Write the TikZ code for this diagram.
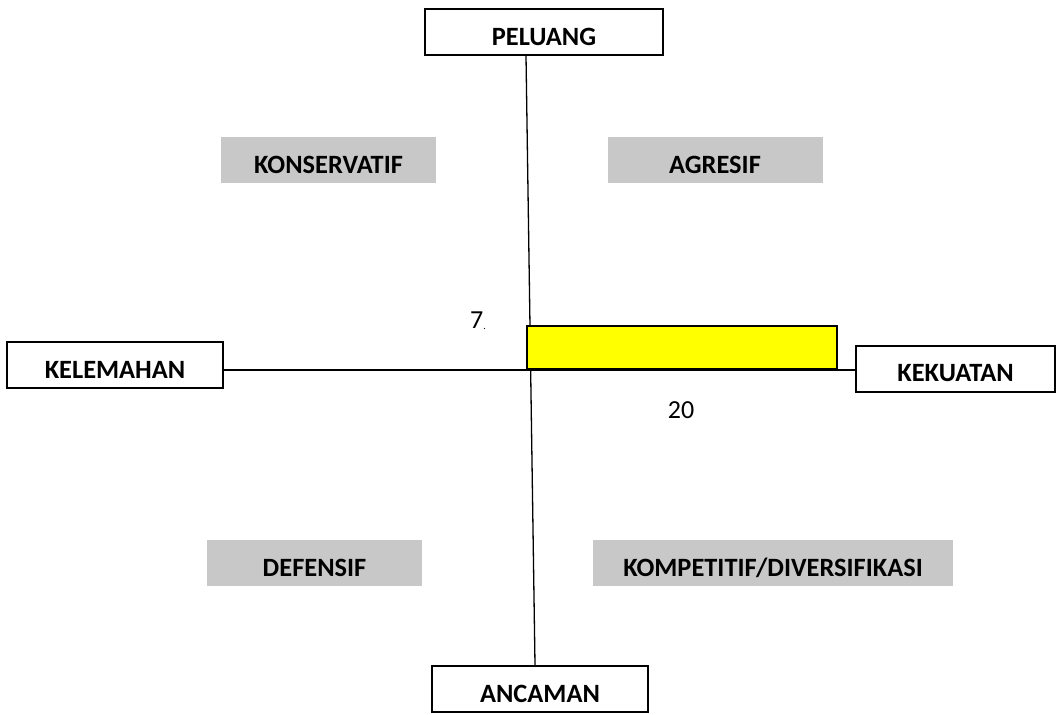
\documentclass[tikz,border=0pt]{standalone}
\usepackage{fontspec}
\setmainfont{Carlito}
\usepackage{tikz}
\usetikzlibrary{arrows,shapes}
\definecolor{quadgray}{RGB}{200,200,200}
\definecolor{markyellow}{RGB}{255,255,0}
\tikzstyle{axisbox}=[draw,line width=1pt,fill=white,minimum height=23pt,inner sep=0pt,text height=13pt,text depth=0pt,font=\fontsize{13.2}{15}\selectfont\bfseries]
\tikzstyle{quadrant}=[fill=quadgray,minimum width=107.5pt,minimum height=23pt,inner sep=0pt,text height=13pt,text depth=0pt,font=\fontsize{13.2}{15}\selectfont\bfseries]
\tikzstyle{score}=[draw,line width=1pt,fill=markyellow,minimum width=155pt,minimum height=21.5pt,inner sep=0pt]
\tikzstyle{axis}=[draw,line width=0.65pt,-]

\begin{document}
\begin{tikzpicture}[x=0.5pt,y=-0.5pt]
    \useasboundingbox (0,0) rectangle (1058,714);
    % the four ends of the axes
    \foreach \pos/\name/\w/\txt in {{(544,32)/peluang/119/PELUANG}, {(540,689)/ancaman/108/ANCAMAN}, {(115,365)/kelemahan/108/KELEMAHAN}, {(955.5,368.5)/kekuatan/99.5/KEKUATAN}}
        \node[axisbox,minimum width=\w pt] (\name) at \pos {\txt};

    % the four strategies
    \foreach \pos/\name/\txt in {{(328.5,160)/konservatif/KONSERVATIF}, {(715,160)/agresif/AGRESIF}, {(314.5,563)/defensif/DEFENSIF}}
        \node[quadrant] (\name) at \pos {\txt};
    \node[quadrant,minimum width=180pt] (kompetitif) at (773,563) {KOMPETITIF/DIVERSIFIKASI};

    % axes
    \coordinate (origin) at (530,370);
    \path[axis] ([xshift=-9pt]peluang.south) -- ([xshift=-2.5pt]ancaman.north);
    \path[axis] (kelemahan.east |- origin) -- (kekuatan.west |- origin);

    % position of the company
    \node[score,anchor=south west] (hasil) at (526,370) {};
    \node[font=\fontsize{13}{15}\selectfont] (nilaiy) at (478,321) {7\raisebox{-0.5pt}{\tiny.}};
    \node[font=\fontsize{13}{15}\selectfont] (nilaix) at (681,410) {20};
\end{tikzpicture}
\end{document}
